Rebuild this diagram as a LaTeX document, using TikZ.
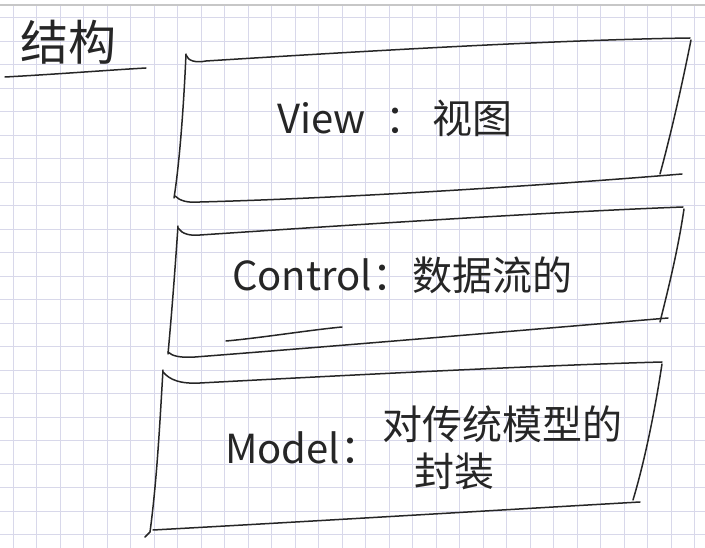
\documentclass[tikz,border=0pt]{standalone}
\usepackage{fontspec}
\newfontfamily\cjk{Noto Sans CJK SC}
\usetikzlibrary{positioning}

\begin{document}
\begin{tikzpicture}[
    x=1pt, y=-1pt,
    pen/.style={draw=black!85, line width=1.5pt, line cap=round, line join=round},
    gridline/.style={draw={rgb,255:red,216;green,216;blue,234}, line width=0.9pt},
    label/.style={font=\cjk\fontsize{40}{47}\selectfont, text=black!85, inner sep=0pt}
]

% --- Paper ---
\fill[white] (0,0) rectangle (705,548);
\useasboundingbox (0,0) rectangle (705,548);
\foreach \x in {13,36.5,...,705} \draw[gridline] (\x,5) -- (\x,548);
\foreach \y in {17.7,41.2,...,548} \draw[gridline] (0,\y) -- (705,\y);
\draw[draw=black!22, line width=2pt] (0,5) -- (705,5);

% --- Title ---
\node[label, font=\cjk\fontsize{48}{50}\selectfont] (title) at (68,42) {结构};
\draw[pen] (5,77) .. controls (60,74) and (110,70) .. (146,68);

% --- View layer ---
\draw[pen] (186,54) .. controls (184,100) and (180,160) .. (174,198);
\draw[pen] (186,55) .. controls (188,61) and (196,63) .. (206,61)
    .. controls (350,52) and (550,40) .. (690,38);
\draw[pen] (691,40) .. controls (683,80) and (672,130) .. (660,174);
\draw[pen] (175,196) .. controls (180,201) and (188,203) .. (200,202)
    .. controls (350,198) and (550,185) .. (682,174);
\node[label] (view) at (395,118) {View\enspace：\,视图};

% --- Control layer ---
\draw[pen] (178,226) .. controls (175,270) and (172,310) .. (168,354);
\draw[pen] (178,228) .. controls (182,234) and (190,236) .. (200,235)
    .. controls (350,225) and (550,212) .. (683,207);
\draw[pen] (684,209) .. controls (678,250) and (668,290) .. (660,322);
\draw[pen] (226,341) .. controls (260,338) and (310,330) .. (342,327);
\draw[pen] (168,352) .. controls (172,356) and (180,358) .. (195,357)
    .. controls (350,345) and (550,328) .. (668,318);
\node[label] (control) at (402,275) {Control：数据流的};

% --- Model layer ---
\draw[pen] (163,370) .. controls (160,420) and (157,480) .. (150,532) -- (145,537);
\draw[pen] (163,372) .. controls (170,380) and (180,384) .. (200,383)
    .. controls (350,375) and (550,365) .. (662,362);
\draw[pen] (662,364) .. controls (655,410) and (645,460) .. (633,500);
\draw[pen] (153,530) .. controls (300,522) and (500,510) .. (640,502);
\node[label, anchor=west] (model) at (225,448) {Model：};
\node[label, align=left, right=2pt of model] (modeldesc) {对传统模型的\\\hspace{0.8em}封装};

\end{tikzpicture}
\end{document}
